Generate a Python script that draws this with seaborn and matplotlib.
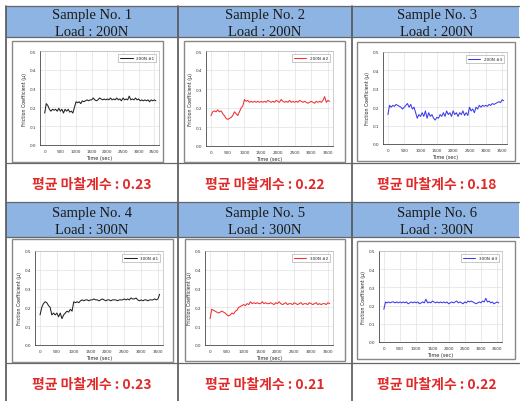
import numpy as np
import pandas as pd
import seaborn as sns
import matplotlib.pyplot as plt
from matplotlib.patches import Rectangle
from matplotlib.lines import Line2D

# time axis (sec), one reading every 50 s
time_sec = np.arange(0, 3600, 50)

sample_names = ["Sample No. 1", "Sample No. 2", "Sample No. 3",
                "Sample No. 4", "Sample No. 5", "Sample No. 6"]
loads = ["Load : 200N", "Load : 200N", "Load : 200N",
         "Load : 300N", "Load : 300N", "Load : 300N"]
legend_labels = ["200N #1", "200N #2", "200N #3", "300N #1", "300N #2", "300N #3"]
avg_friction = ["0.23", "0.22", "0.18", "0.23", "0.21", "0.22"]

mu_s1 = [0.17, 0.22, 0.21, 0.19, 0.18, 0.19, 0.185, 0.19, 0.18, 0.195, 0.18, 0.19,
         0.17, 0.19, 0.18, 0.19, 0.175, 0.18, 0.17, 0.20, 0.23, 0.225, 0.23, 0.22,
         0.235, 0.23, 0.235, 0.24, 0.235, 0.24, 0.24, 0.25, 0.24, 0.235, 0.24, 0.25,
         0.245, 0.24, 0.245, 0.24, 0.245, 0.24, 0.25, 0.24, 0.245, 0.24, 0.25, 0.24,
         0.245, 0.235, 0.25, 0.24, 0.245, 0.24, 0.26, 0.24, 0.245, 0.24, 0.25, 0.24,
         0.245, 0.235, 0.24, 0.235, 0.24, 0.235, 0.24, 0.23, 0.24, 0.235, 0.24, 0.235]
mu_s2 = [0.16, 0.18, 0.185, 0.18, 0.19, 0.18, 0.185, 0.17, 0.16, 0.145, 0.14, 0.145,
         0.15, 0.16, 0.18, 0.17, 0.16, 0.18, 0.20, 0.21, 0.245, 0.235, 0.24, 0.23,
         0.235, 0.23, 0.235, 0.23, 0.235, 0.23, 0.235, 0.23, 0.235, 0.23, 0.24, 0.235,
         0.23, 0.235, 0.23, 0.24, 0.235, 0.23, 0.245, 0.235, 0.23, 0.235, 0.23, 0.24,
         0.23, 0.235, 0.23, 0.235, 0.23, 0.24, 0.235, 0.23, 0.235, 0.23, 0.225, 0.23,
         0.235, 0.23, 0.225, 0.235, 0.23, 0.235, 0.23, 0.24, 0.26, 0.23, 0.24, 0.235]
mu_s3 = [0.16, 0.21, 0.20, 0.21, 0.205, 0.215, 0.21, 0.205, 0.20, 0.19, 0.20, 0.21,
         0.22, 0.20, 0.215, 0.19, 0.20, 0.17, 0.14, 0.16, 0.15, 0.17, 0.15, 0.18,
         0.14, 0.17, 0.15, 0.16, 0.14, 0.13, 0.145, 0.14, 0.16, 0.15, 0.17, 0.15,
         0.18, 0.16, 0.17, 0.15, 0.18, 0.16, 0.17, 0.15, 0.17, 0.16, 0.18, 0.155,
         0.17, 0.155, 0.20, 0.18, 0.19, 0.17, 0.20, 0.19, 0.21, 0.20, 0.21, 0.205,
         0.21, 0.205, 0.215, 0.21, 0.22, 0.215, 0.22, 0.225, 0.23, 0.225, 0.24, 0.235]
mu_s4 = [0.16, 0.20, 0.22, 0.23, 0.225, 0.21, 0.20, 0.16, 0.17, 0.16, 0.17, 0.15,
         0.17, 0.14, 0.16, 0.17, 0.18, 0.175, 0.19, 0.18, 0.23, 0.225, 0.23, 0.225,
         0.235, 0.24, 0.235, 0.24, 0.24, 0.235, 0.24, 0.24, 0.245, 0.24, 0.24, 0.235,
         0.24, 0.245, 0.24, 0.235, 0.24, 0.24, 0.235, 0.24, 0.24, 0.24, 0.235, 0.24,
         0.24, 0.24, 0.245, 0.24, 0.245, 0.24, 0.25, 0.245, 0.245, 0.25, 0.24, 0.235,
         0.24, 0.235, 0.24, 0.24, 0.235, 0.24, 0.24, 0.24, 0.245, 0.24, 0.245, 0.27]
mu_s5 = [0.14, 0.19, 0.185, 0.18, 0.175, 0.17, 0.175, 0.18, 0.175, 0.17, 0.16, 0.155,
         0.16, 0.17, 0.165, 0.18, 0.185, 0.20, 0.205, 0.21, 0.215, 0.21, 0.22, 0.215,
         0.23, 0.22, 0.225, 0.22, 0.225, 0.22, 0.22, 0.23, 0.22, 0.225, 0.22, 0.22,
         0.225, 0.22, 0.215, 0.225, 0.22, 0.23, 0.22, 0.215, 0.22, 0.225, 0.215, 0.22,
         0.22, 0.215, 0.225, 0.22, 0.215, 0.22, 0.225, 0.215, 0.22, 0.22, 0.215, 0.225,
         0.22, 0.215, 0.22, 0.225, 0.215, 0.22, 0.215, 0.22, 0.22, 0.215, 0.225, 0.22]
mu_s6 = [0.18, 0.22, 0.215, 0.22, 0.215, 0.22, 0.22, 0.215, 0.22, 0.215, 0.22, 0.215,
         0.22, 0.215, 0.22, 0.21, 0.215, 0.22, 0.215, 0.22, 0.215, 0.22, 0.21, 0.215,
         0.22, 0.215, 0.235, 0.215, 0.22, 0.215, 0.225, 0.22, 0.215, 0.22, 0.215, 0.22,
         0.215, 0.22, 0.215, 0.22, 0.21, 0.215, 0.22, 0.215, 0.22, 0.225, 0.215, 0.22,
         0.215, 0.21, 0.22, 0.215, 0.225, 0.22, 0.225, 0.22, 0.215, 0.21, 0.215, 0.22,
         0.215, 0.225, 0.22, 0.24, 0.22, 0.225, 0.215, 0.22, 0.21, 0.215, 0.22, 0.215]
series = [mu_s1, mu_s2, mu_s3, mu_s4, mu_s5, mu_s6]
line_colors = ["#222222", "#ee3030", "#3a3aee", "#222222", "#ee3030", "#3a3aee"]

sns.set_style("white")
W, H = 522, 402
fig = plt.figure(figsize=(W / 100, H / 100), dpi=100)


def px_box(l, t, r, b):
    return [l / W, 1 - b / H, (r - l) / W, (b - t) / H]


# table: header bands, grid lines
blue = "#8db4e2"
for top, bot in [(7, 38), (203, 238)]:
    fig.patches.append(Rectangle((6 / W, 1 - bot / H), (519 - 6) / W, (bot - top) / H,
                                 transform=fig.transFigure, facecolor=blue, edgecolor="none", zorder=-3))
for x in [6, 178, 352]:
    fig.lines.append(Line2D([x / W, x / W], [1 - 7 / H, 0], transform=fig.transFigure,
                            color="#555555", lw=1.2, zorder=-2))
for y in [7, 38, 164, 203, 238, 364]:
    fig.lines.append(Line2D([6 / W, 519 / W], [1 - y / H, 1 - y / H], transform=fig.transFigure,
                            color="#666666", lw=0.9, zorder=-2))

# framed chart images
frames = [(12, 42, 163, 163), (184, 42, 345, 163), (357, 43, 515, 162),
          (12, 240, 173, 363), (185, 240, 345, 362), (357, 242, 515, 360)]
for l, t, r, b in frames:
    fig.patches.append(Rectangle((l / W, 1 - b / H), (r - l) / W, (b - t) / H,
                                 transform=fig.transFigure, facecolor="white",
                                 edgecolor="#888888", lw=1.0, zorder=-1))

axes_px = [(40, 52, 159, 146), (206, 52, 333, 147), (383, 53, 507, 145),
           (35, 252, 163, 346), (205, 252, 333, 346), (379, 252, 502, 343)]
col_centers = [92, 265, 437]
header_y = [(15, 32), (214, 231)]
note_y = [185, 385]

for i in range(6):
    ax = fig.add_axes(px_box(*axes_px[i]))
    ax.patch.set_alpha(0)
    df = pd.DataFrame({"time": time_sec, "mu": series[i]})
    sns.lineplot(data=df, x="time", y="mu", ax=ax, color=line_colors[i],
                 linewidth=0.75, label=legend_labels[i])
    ax.set_xlim(-150, 3650)
    ax.set_ylim(0, 0.5)
    ax.set_xticks(range(0, 3501, 500))
    ax.set_yticks([0.0, 0.1, 0.2, 0.3, 0.4, 0.5])
    ax.set_yticklabels(["0.0", "0.1", "0.2", "0.3", "0.4", "0.5"])
    ax.tick_params(labelsize=3, length=1.5, width=0.4, pad=1.5, direction="out",
                   labelcolor="#333333")
    ax.grid(True, color="#e2e2e2", lw=0.5)
    for s in ["top", "right"]:
        ax.spines[s].set_color("#aaaaaa")
        ax.spines[s].set_linewidth(0.4)
    for s in ["left", "bottom"]:
        ax.spines[s].set_color("#222222")
        ax.spines[s].set_linewidth(0.5)
    ax.set_xlabel("Time (sec)", fontsize=3.6, labelpad=1.5)
    ax.set_ylabel("Friction Coefficient (\u03bc)", fontsize=3.4, labelpad=2)
    leg = ax.legend(loc="upper right", fontsize=3, frameon=True, fancybox=False,
                    handlelength=3, borderpad=0.4, borderaxespad=0.8)
    leg.get_frame().set_edgecolor("#888888")
    leg.get_frame().set_linewidth(0.4)

    row, col = divmod(i, 3)
    cx = col_centers[col] / W
    fig.text(cx, 1 - header_y[row][0] / H, sample_names[i], ha="center", va="center",
             fontsize=10.5, family="Liberation Serif", color="#1a1a1a")
    fig.text(cx, 1 - header_y[row][1] / H, loads[i], ha="center", va="center",
             fontsize=10.5, family="Liberation Serif", color="#1a1a1a")
    fig.text(cx, 1 - note_y[row] / H, "평균 마찰계수 : " + avg_friction[i],
             ha="center", va="center", fontsize=10, fontweight="bold", color="#e02a2a",
             family=["Noto Sans CJK KR", "DejaVu Sans"])

fig.savefig("out.png", dpi=100)
